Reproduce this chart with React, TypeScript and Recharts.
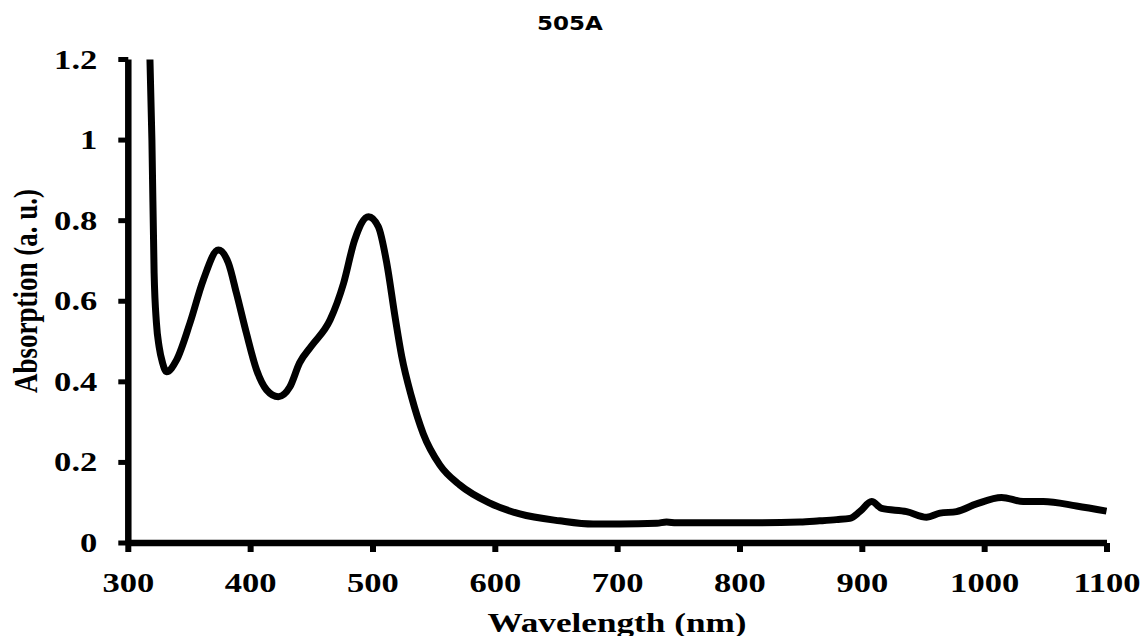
import { LineChart, Line, XAxis, YAxis } from "recharts";

// wavelength (nm) and absorption (a.u.)
const wavelength = [
  316, 317.7, 319.3, 321.1, 323, 325.2, 328, 331.2, 339.4, 350.4, 361.3, 373.6,
  381.8, 388.4, 396.6, 404.8, 413, 422.6, 432, 440, 450, 465, 476, 485, 496.4,
  504.4, 511.3, 518, 523.5, 531.5, 541, 554.6, 571, 595.6, 620, 652.7, 680,
  701.8, 732, 740, 748, 800, 849, 865, 879, 889.8, 898, 907.6, 915.8, 936.2,
  952.6, 963.5, 977, 993.4, 1013.8, 1031.5, 1048, 1075, 1099.6,
];
const absorption = [
  1.35, 1.2, 1.0, 0.67, 0.546, 0.487, 0.447, 0.425, 0.454, 0.546, 0.653, 0.727,
  0.695, 0.62, 0.52, 0.43, 0.38, 0.363, 0.387, 0.447, 0.49, 0.554, 0.645, 0.752, 0.81,
  0.785, 0.694, 0.562, 0.463, 0.363, 0.272, 0.194, 0.144, 0.099, 0.072, 0.055, 0.047,
  0.047, 0.049, 0.052, 0.05, 0.05, 0.052, 0.055, 0.058, 0.061, 0.078, 0.103, 0.086, 0.078,
  0.064, 0.074, 0.078, 0.097, 0.113, 0.103, 0.103, 0.092, 0.079,
];
const xTicks = [300, 400, 500, 600, 700, 800, 900, 1000, 1100];
const yTicks = [0, 0.2, 0.4, 0.6, 0.8, 1, 1.2];

const title = "505A";
const xLabel = "Wavelength (nm)";
const yLabel = "Absorption (a. u.)";

const data = wavelength.map((w, i) => ({ w, a: absorption[i] }));

const serif = "'Liberation Serif', 'Times New Roman', serif";

function XTick({ x, y, payload }: any) {
  return (
    <g transform={`translate(${x},${y})`}>
      <text
        transform="scale(1.28,1)"
        y={38}
        textAnchor="middle"
        fontFamily={serif}
        fontWeight={700}
        fontSize={27}
        fill="#000"
      >
        {payload.value}
      </text>
    </g>
  );
}

function YTick({ x, y, payload }: any) {
  return (
    <g transform={`translate(${x},${y})`}>
      <text
        transform="scale(1.28,1)"
        y={9}
        textAnchor="end"
        fontFamily={serif}
        fontWeight={700}
        fontSize={27}
        fill="#000"
      >
        {String(payload.value)}
      </text>
    </g>
  );
}

export default function App() {
  return (
    <div style={{ position: "absolute", left: 0, top: 0, background: "#fff" }}>
      <LineChart
        width={1145}
        height={636}
        data={data}
        margin={{ top: 59.5, right: 38, bottom: 33, left: 0 }}
      >
        <XAxis
          dataKey="w"
          type="number"
          domain={[300, 1100]}
          ticks={xTicks}
          interval={0}
          height={60}
          stroke="#000"
          strokeWidth={6.5}
          tickSize={9}
          tickLine={{ stroke: "#000", strokeWidth: 6 }}
          tick={<XTick />}
        />
        <YAxis
          type="number"
          domain={[0, 1.2]}
          ticks={yTicks}
          allowDataOverflow
          interval={0}
          width={128.3}
          stroke="#000"
          strokeWidth={6.5}
          tickSize={10}
          tickMargin={21}
          tickLine={{ stroke: "#000", strokeWidth: 5 }}
          tick={<YTick />}
        />
        <Line
          type="monotone"
          dataKey="a"
          stroke="#000"
          strokeWidth={7}
          dot={false}
          activeDot={false}
          isAnimationActive={false}
        />
        <text
          transform="translate(570,30) scale(1.15,1)"
          textAnchor="middle"
          fontFamily="'DejaVu Sans', Verdana, sans-serif"
          fontWeight={700}
          fontSize={20}
          fill="#000"
        >
          {title}
        </text>
        <text
          transform="translate(617,632) scale(1.28,1)"
          textAnchor="middle"
          fontFamily={serif}
          fontWeight={700}
          fontSize={27.5}
          fill="#000"
        >
          {xLabel}
        </text>
        <text
          transform="translate(37,291) scale(1.28,1) rotate(-90)"
          textAnchor="middle"
          fontFamily={serif}
          fontWeight={700}
          fontSize={27}
          fill="#000"
        >
          {yLabel}
        </text>
      </LineChart>
    </div>
  );
}
